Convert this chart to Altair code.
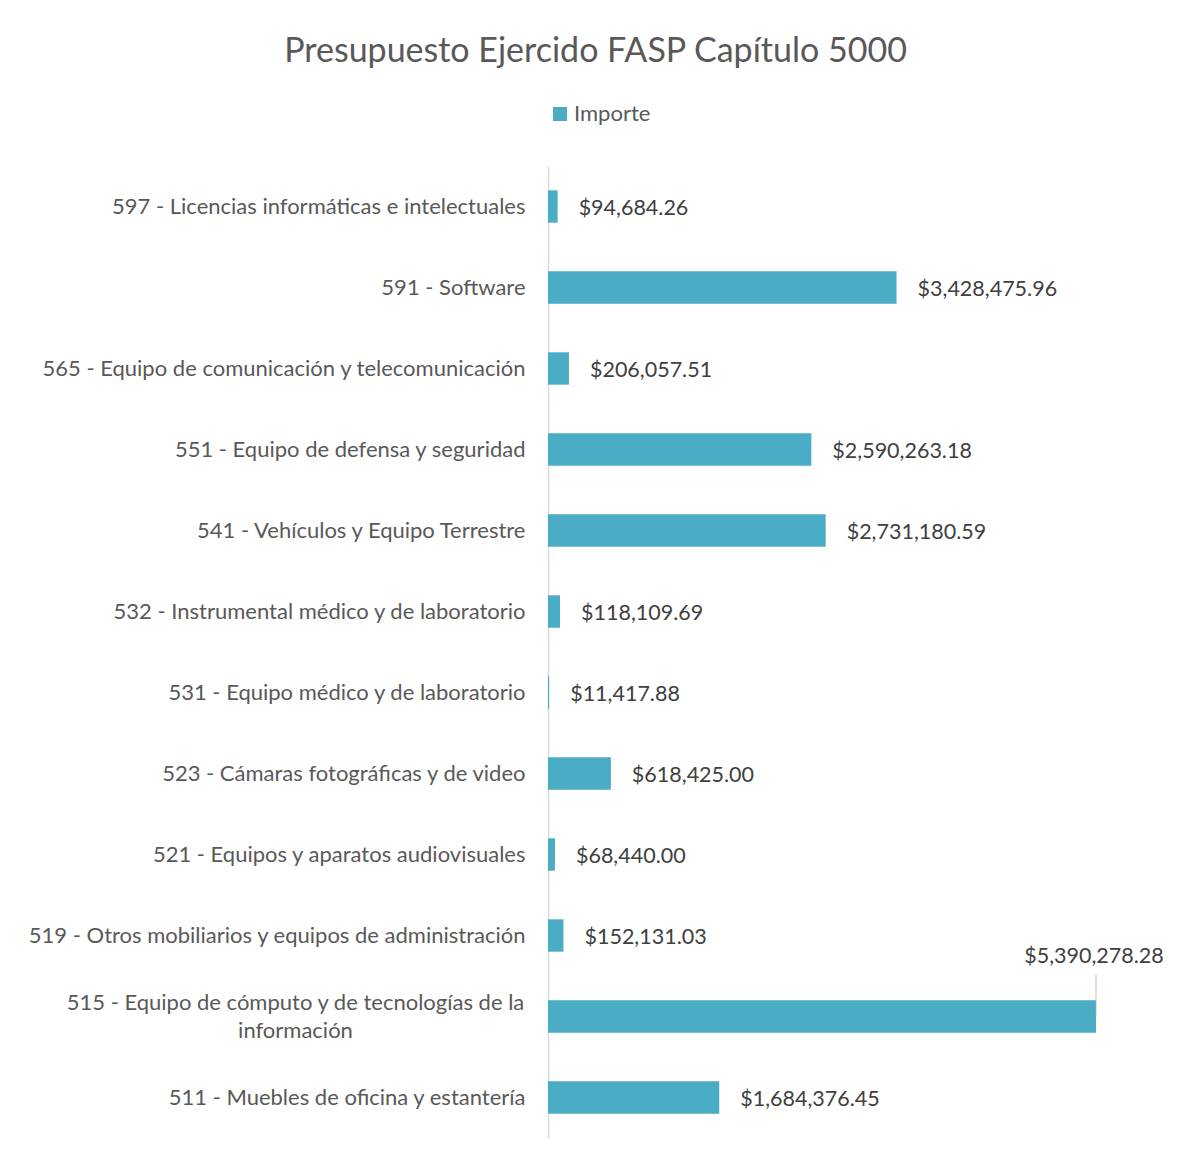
import altair as alt
import pandas as pd

categories = [
    "597 - Licencias informáticas e intelectuales",
    "591 - Software",
    "565 - Equipo de comunicación y telecomunicación",
    "551 - Equipo de defensa y seguridad",
    "541 - Vehículos y Equipo Terrestre",
    "532 - Instrumental médico y de laboratorio",
    "531 - Equipo médico y de laboratorio",
    "523 - Cámaras fotográficas y de video",
    "521 - Equipos y aparatos audiovisuales",
    "519 - Otros mobiliarios y equipos de administración",
    "515 - Equipo de cómputo y de tecnologías de la información",
    "511 - Muebles de oficina y estantería",
]
values = [94684.26, 3428475.96, 206057.51, 2590263.18, 2731180.59, 118109.69,
          11417.88, 618425.00, 68440.00, 152131.03, 5390278.28, 1684376.45]
series = "Importe"
title = "Presupuesto Ejercido FASP Capítulo 5000"

df = pd.DataFrame({"cat": categories, "value": values, "serie": series})

FONT = "Lato"
BAR = "#4BACC6"

wrap_test = "indexof(datum.value, 'información') > 0"
label_expr = (
    "indexof(datum.label, 'información') > 0 ? "
    "['515 - Equipo de cómputo y de tecnologías de la', 'información'] : datum.label"
)

y_enc = alt.Y(
    "cat:N", sort=categories, title=None,
    scale=alt.Scale(paddingInner=0.6, paddingOuter=0.3),
    axis=alt.Axis(domain=True, domainColor="#D9D9D9", domainWidth=1.5, ticks=False,
                  labelFont=FONT, labelFontSize=22, labelColor="#595959",
                  labelLimit=700, labelExpr=label_expr, labelLineHeight=28,
                  labelAlign={"condition": {"test": wrap_test, "value": "center"}, "value": "right"},
                  labelPadding={"condition": {"test": wrap_test, "value": 253}, "value": 23},
                  labelOffset={"condition": {"test": wrap_test, "value": -14}, "value": 0}),
)
x_enc = alt.X("value:Q", axis=None, scale=alt.Scale(domain=[0, 6000000], nice=False))

base = alt.Chart(df)

bars = base.mark_bar(color=BAR).encode(
    x=x_enc, y=y_enc,
    color=alt.Color("serie:N", scale=alt.Scale(range=[BAR]),
                    legend=alt.Legend(title=None, orient="none", legendX=1, legendY=-63,
                                      symbolType="square", symbolSize=196, symbolStrokeWidth=0,
                                      labelFont=FONT, labelFontSize=22, labelColor="#595959",
                                      padding=0, labelOffset=3)),
)

with_max = base.transform_joinaggregate(maxv="max(value)")

labels = with_max.transform_filter("datum.value < datum.maxv").mark_text(
    align="left", baseline="middle", dx=21, dy=2, font=FONT, fontSize=21.5, color="#404040"
).encode(x=x_enc, y=y_enc, text=alt.Text("value:Q", format="$,.2f"))

big_label = with_max.transform_filter("datum.value == datum.maxv").mark_text(
    align="center", baseline="middle", dx=-2, dy=-60, font=FONT, fontSize=21.5, color="#404040"
).encode(x=x_enc, y=y_enc, text=alt.Text("value:Q", format="$,.2f"))

leader = with_max.transform_filter("datum.value == datum.maxv").mark_tick(
    orient="vertical", thickness=1, size=42, yOffset=-21, color="#A6A6A6"
).encode(x=x_enc, y=y_enc)

chart = alt.layer(bars, labels, big_label, leader).properties(
    width=610, height=972,
    title=alt.TitleParams(title, font=FONT, fontSize=34, fontWeight="normal", color="#595959",
                          anchor="middle", frame="bounds", offset=34),
    autosize=alt.AutoSizeParams(type="none"),
    padding={"left": 540, "top": 158, "right": 15, "bottom": 16},
).configure(background="white").configure_view(stroke=None, strokeWidth=0)

chart.save("out.html", embed_options={"renderer": "svg", "actions": False})
